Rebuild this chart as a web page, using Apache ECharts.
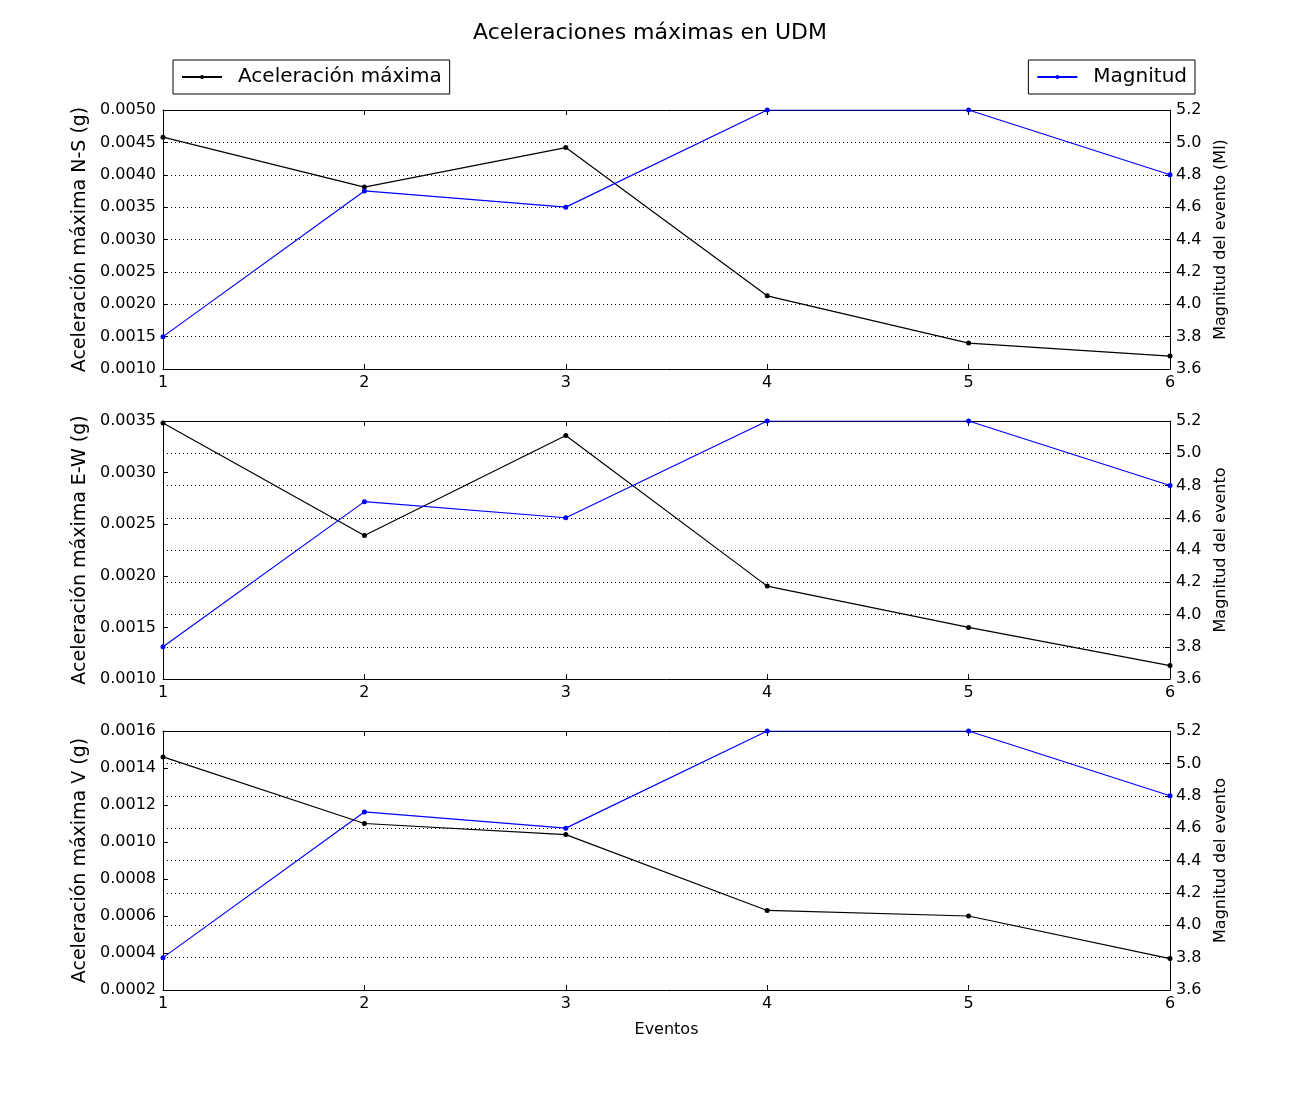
<!DOCTYPE html>
<html>
<head>
<meta charset="utf-8">
<script src="https://cdn.jsdelivr.net/npm/echarts@6/dist/echarts.min.js"></script>
<style>html,body{margin:0;padding:0;background:#fff}#c{width:1300px;height:1100px}</style>
</head>
<body>
<div id="c"></div>
<script>
const eventos = [1, 2, 3, 4, 5, 6];
const magnitud = [3.8, 4.7, 4.6, 5.2, 5.2, 4.8];
const accNS = [0.00458, 0.00381, 0.00442, 0.00213, 0.00140, 0.00120];
const accEW = [0.00348, 0.00239, 0.00336, 0.00190, 0.00150, 0.00113];
const accV = [0.00146, 0.00110, 0.00104, 0.00063, 0.00060, 0.00037];
const leftNames = ['Aceleración máxima N-S (g)', 'Aceleración máxima E-W (g)', 'Aceleración máxima V (g)'];
const rightNames = ['Magnitud del evento (Ml)', 'Magnitud del evento', 'Magnitud del evento'];
const leftRanges = [[0.0010, 0.0050, 0.0005], [0.0010, 0.0035, 0.0005], [0.0002, 0.0016, 0.0002]];
const accAll = [accNS, accEW, accV];

const FONT = 'DejaVu Sans';
const grids = [
  {left: 163, right: 130, top: 110, height: 259},
  {left: 163, right: 130, top: 421, height: 258},
  {left: 163, right: 130, top: 731, height: 259}
];
const tickStyle = {show: true, inside: true, length: 5, lineStyle: {color: '#000'}};
const lineBlack = {show: true, lineStyle: {color: '#000', width: 1}};

const xAxis = [], yAxis = [], series = [];
grids.forEach((g, i) => {
  xAxis.push({
    type: 'value', gridIndex: i, min: 1, max: 6, interval: 1, position: 'bottom',
    axisLine: lineBlack, axisTick: tickStyle, splitLine: {show: false},
    axisLabel: {color: '#000', fontSize: 16, fontFamily: FONT, margin: 6},
    name: i === 2 ? 'Eventos' : '', nameLocation: 'middle', nameGap: 32,
    nameTextStyle: {color: '#000', fontSize: 16, fontFamily: FONT}
  });
  xAxis.push({
    type: 'value', gridIndex: i, min: 1, max: 6, interval: 1, position: 'top',
    axisLine: lineBlack, axisTick: tickStyle, splitLine: {show: false},
    axisLabel: {show: false}
  });
  const r = leftRanges[i];
  yAxis.push({
    type: 'value', gridIndex: i, min: r[0], max: r[1], interval: r[2], position: 'left',
    axisLine: lineBlack, axisTick: tickStyle, splitLine: {show: false},
    axisLabel: {color: '#000', fontSize: 16, fontFamily: FONT, margin: 7,
      formatter: v => v.toFixed(4)},
    name: leftNames[i], nameLocation: 'middle', nameGap: 70,
    nameTextStyle: {color: '#000', fontSize: 19, fontFamily: FONT}
  });
  yAxis.push({
    type: 'value', gridIndex: i, min: 3.6, max: 5.2, interval: 0.2, position: 'right',
    axisLine: lineBlack, axisTick: tickStyle,
    splitLine: {show: true, lineStyle: {color: '#000', width: 1, type: [1, 3]}},
    axisLabel: {color: '#000', fontSize: 16, fontFamily: FONT, margin: 6,
      formatter: v => v.toFixed(1)},
    name: rightNames[i], nameLocation: 'middle', nameGap: 39, nameRotate: 90,
    nameTextStyle: {color: '#000', fontSize: 16, fontFamily: FONT}
  });
  series.push({
    name: 'Aceleración máxima', type: 'line', xAxisIndex: 2 * i, yAxisIndex: 2 * i,
    data: eventos.map((e, k) => [e, accAll[i][k]]),
    symbol: 'circle', symbolSize: 5, showAllSymbol: true,
    lineStyle: {color: '#000', width: 1.2}, itemStyle: {color: '#000'},
    emphasis: {disabled: true}, animation: false
  });
  series.push({
    name: 'Magnitud', type: 'line', xAxisIndex: 2 * i, yAxisIndex: 2 * i + 1,
    data: eventos.map((e, k) => [e, magnitud[k]]),
    symbol: 'circle', symbolSize: 5, showAllSymbol: true,
    lineStyle: {color: '#0000ff', width: 1.2}, itemStyle: {color: '#0000ff'},
    emphasis: {disabled: true}, animation: false
  });
});

const legendBase = {
  top: 60, orient: 'horizontal', borderColor: '#000', borderWidth: 1, borderRadius: 0,
  padding: [7, 8, 7, 8], itemWidth: 40, itemHeight: 5, itemGap: 10,
  textStyle: {color: '#000', fontSize: 20, fontFamily: FONT, padding: [0, 0, 0, 11]},
  selectedMode: false
};

const chart = echarts.init(document.getElementById('c'), null, {renderer: 'canvas'});
chart.setOption({
  backgroundColor: '#fff',
  animation: false,
  title: {
    text: 'Aceleraciones máximas en UDM', left: 'center', top: 17,
    textStyle: {color: '#000', fontSize: 22, fontWeight: 'normal', fontFamily: FONT}
  },
  legend: [
    Object.assign({}, legendBase, {left: 173, data: ['Aceleración máxima']}),
    Object.assign({}, legendBase, {right: 105, data: ['Magnitud']})
  ],
  grid: grids,
  xAxis: xAxis,
  yAxis: yAxis,
  series: series
});
</script>
</body>
</html>
